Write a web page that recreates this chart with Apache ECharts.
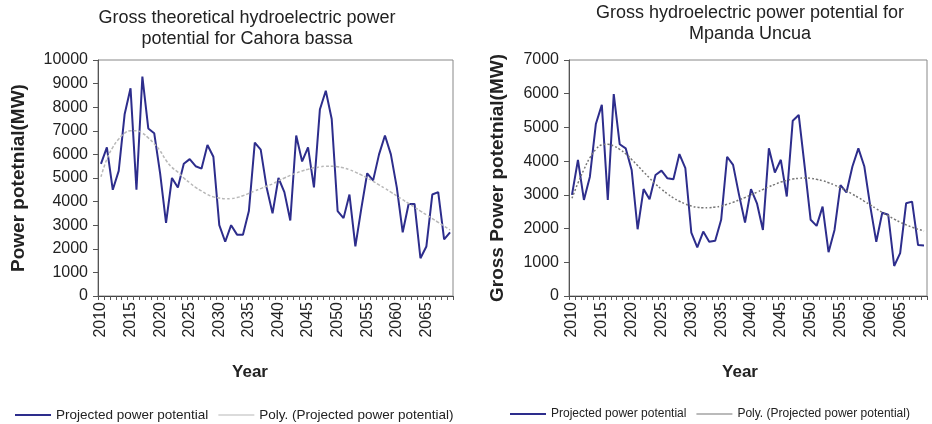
<!DOCTYPE html>
<html>
<head>
<meta charset="utf-8">
<script src="https://cdn.jsdelivr.net/npm/echarts@6/dist/echarts.min.js"></script>
<style>
  html, body { margin: 0; padding: 0; background: #fff; }
  #chart { width: 932px; height: 424px; }
</style>
</head>
<body>
<div id="chart"></div>
<script>
// 年份（横轴类目）
const years = [
  '2010', '2011', '2012', '2013', '2014', '2015', '2016', '2017', '2018', '2019',
  '2020', '2021', '2022', '2023', '2024', '2025', '2026', '2027', '2028', '2029',
  '2030', '2031', '2032', '2033', '2034', '2035', '2036', '2037', '2038', '2039',
  '2040', '2041', '2042', '2043', '2044', '2045', '2046', '2047', '2048', '2049',
  '2050', '2051', '2052', '2053', '2054', '2055', '2056', '2057', '2058', '2059',
  '2060', '2061', '2062', '2063', '2064', '2065', '2066', '2067', '2068', '2069'
]

// Cahora bassa - projected power potential (MW)
const cahoraPower = [
  5600, 6300, 4500, 5300, 7700, 8800, 4500, 9300, 7100, 6900,
  5200, 3100, 5000, 4600, 5600, 5800, 5500, 5400, 6400, 5900,
  3000, 2300, 3000, 2600, 2600, 3600, 6500, 6200, 4600, 3500,
  5000, 4400, 3200, 6800, 5700, 6300, 4600, 7900, 8700, 7500,
  3600, 3300, 4300, 2100, 3700, 5200, 4900, 6000, 6800, 6000,
  4600, 2700, 3900, 3900, 1600, 2100, 4300, 4400, 2400, 2700
]
// Cahora bassa - poly trend
const cahoraPoly = [
  5050, 5800, 6300, 6650, 6900, 7000, 7000, 6900, 6700, 6450,
  6150, 5750, 5450, 5250, 5000, 4800, 4600, 4450, 4300, 4200,
  4150, 4120, 4130, 4170, 4250, 4350, 4450, 4550, 4650, 4750,
  4880, 5000, 5110, 5210, 5300, 5370, 5430, 5470, 5500, 5500,
  5480, 5430, 5350, 5250, 5130, 5000, 4860, 4710, 4560, 4400,
  4240, 4080, 3920, 3760, 3600, 3440, 3280, 3120, 2960, 2800
]

// Mpanda Uncua - projected power potential (MW)
const mpandaPower = [
  3000, 4040, 2850, 3540, 5100, 5670, 2850, 5990, 4500, 4380,
  3740, 1980, 3170, 2870, 3590, 3720, 3490, 3460, 4210, 3790,
  1880, 1440, 1910, 1610, 1640, 2260, 4130, 3890, 3000, 2180,
  3170, 2750, 1960, 4380, 3660, 4040, 2950, 5200, 5370, 3840,
  2260, 2080, 2650, 1300, 1960, 3290, 3070, 3840, 4380, 3840,
  2650, 1610, 2470, 2410, 890, 1270, 2750, 2800, 1510, 1500
]
// Mpanda Uncua - poly trend
const mpandaPoly = [
  2900, 3350, 3750, 4100, 4350, 4480, 4500, 4450, 4350, 4220,
  4050, 3870, 3680, 3500, 3320, 3170, 3030, 2910, 2810, 2730,
  2670, 2630, 2620, 2620, 2640, 2670, 2720, 2780, 2850, 2920,
  3000, 3080, 3160, 3240, 3310, 3380, 3430, 3470, 3490, 3500,
  3490, 3460, 3420, 3360, 3290, 3210, 3120, 3020, 2920, 2810,
  2700, 2590, 2480, 2380, 2280, 2190, 2110, 2040, 1980, 1930
]

const FONT = '"Liberation Sans", Arial, sans-serif'
const mainColor = '#2d2d8c'
const NAME_MAIN = 'Projected power potential'
const NAME_POLY = 'Poly. (Projected power potential)'

const chart = echarts.init(document.getElementById('chart'))

// x轴（两个图共用的样式）
function makeXAxis(gridIndex) {
  return {
    type: 'category',
    gridIndex: gridIndex,
    data: years,
    boundaryGap: true,
    axisLine: { lineStyle: { color: '#444', width: 1 } },
    axisTick: { show: true, interval: 0, length: 4, lineStyle: { color: '#555' } },
    axisLabel: {
      interval: (idx) => idx % 5 === 0,
      rotate: 90,
      margin: 6,
      fontSize: 16,
      fontFamily: FONT,
      color: '#222'
    },
    splitLine: { show: false }
  }
}

function makeYAxis(gridIndex, max, name, gap) {
  return {
    type: 'value',
    gridIndex: gridIndex,
    min: 0,
    max: max,
    interval: 1000,
    name: name,
    nameLocation: 'middle',
    nameGap: gap,
    nameTextStyle: { fontSize: 19, fontWeight: 'bold', fontFamily: FONT, color: '#222' },
    axisLine: { show: true, lineStyle: { color: '#555' } },
    axisTick: { show: true, length: 5, lineStyle: { color: '#555' } },
    axisLabel: {
      fontSize: 16, fontFamily: FONT, color: '#222', margin: 10,
      formatter: (v) => String(v) // 不要千分位
    },
    splitLine: { show: false }
  }
}

function legendFor(left, fontSize, polyColor) {
  return {
    left: left,
    top: 403,
    width: 460,
    itemWidth: 36,
    itemHeight: 10,
    itemGap: 10,
    textStyle: { fontSize: fontSize, fontFamily: FONT, color: '#222' },
    data: [
      { name: NAME_MAIN, icon: 'path://M0,4L36,4L36,6L0,6Z', itemStyle: { color: mainColor } },
      { name: NAME_POLY, icon: 'path://M0,4.5L36,4.5L36,5.5L0,5.5Z', itemStyle: { color: polyColor } }
    ]
  }
}

const option = {
  backgroundColor: '#fff',
  animation: false,
  grid: [
    { left: 98, top: 60, width: 355, height: 236, show: true, borderColor: '#888', borderWidth: 1, backgroundColor: 'transparent' },
    { left: 569, top: 60, width: 358, height: 236, show: true, borderColor: '#888', borderWidth: 1, backgroundColor: 'transparent' }
  ],
  xAxis: [makeXAxis(0), makeXAxis(1)],
  yAxis: [
    makeYAxis(0, 10000, 'Power potetnial(MW)', 70),
    makeYAxis(1, 7000, 'Gross Power potetnial(MW)', 62)
  ],
  legend: [legendFor(10, 13.5, '#b8b8b8'), legendFor(505, 12, '#777')],
  graphic: [
    {
      type: 'text', x: 247, y: 8,
      style: {
        text: 'Gross theoretical hydroelectric power\npotential for Cahora bassa',
        fontSize: 18, fontFamily: FONT, fill: '#222', align: 'center', verticalAlign: 'top', lineHeight: 21
      }
    },
    {
      type: 'text', x: 750, y: 3,
      style: {
        text: 'Gross hydroelectric power potential for\nMpanda Uncua',
        fontSize: 18, fontFamily: FONT, fill: '#222', align: 'center', verticalAlign: 'top', lineHeight: 21
      }
    },
    {
      type: 'text', x: 250, y: 372,
      style: { text: 'Year', fontSize: 17, fontWeight: 'bold', fontFamily: FONT, fill: '#222', align: 'center', verticalAlign: 'middle' }
    },
    {
      type: 'text', x: 740, y: 372,
      style: { text: 'Year', fontSize: 17, fontWeight: 'bold', fontFamily: FONT, fill: '#222', align: 'center', verticalAlign: 'middle' }
    }
  ],
  series: [
    {
      name: NAME_MAIN, type: 'line', xAxisIndex: 0, yAxisIndex: 0,
      data: cahoraPower, symbol: 'none',
      lineStyle: { color: mainColor, width: 2 }, itemStyle: { color: mainColor }
    },
    {
      name: NAME_POLY, type: 'line', xAxisIndex: 0, yAxisIndex: 0,
      data: cahoraPoly, symbol: 'none', smooth: true,
      lineStyle: { color: '#b8b8b8', width: 1.5, type: [3, 2] }, itemStyle: { color: '#b8b8b8' }
    },
    {
      name: NAME_MAIN, type: 'line', xAxisIndex: 1, yAxisIndex: 1,
      data: mpandaPower, symbol: 'none',
      lineStyle: { color: mainColor, width: 2 }, itemStyle: { color: mainColor }
    },
    {
      name: NAME_POLY, type: 'line', xAxisIndex: 1, yAxisIndex: 1,
      data: mpandaPoly, symbol: 'none', smooth: true,
      lineStyle: { color: '#777', width: 1.5, type: [2, 2] }, itemStyle: { color: '#777' }
    }
  ]
}

chart.setOption(option)
</script>
</body>
</html>
